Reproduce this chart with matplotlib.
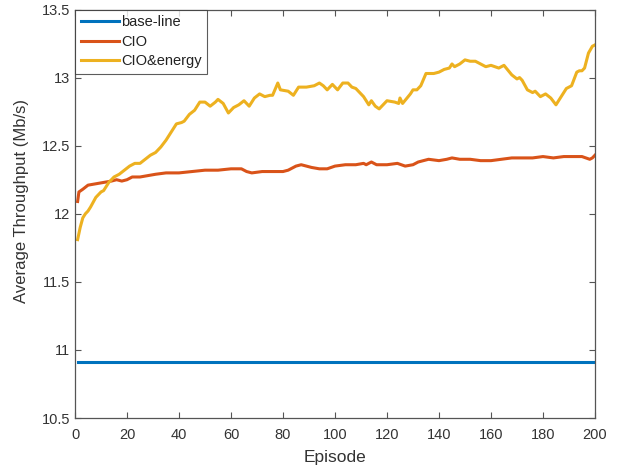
import matplotlib
matplotlib.use("Agg")
import matplotlib.pyplot as plt

plt.rcParams['font.family'] = ['Liberation Sans', 'DejaVu Sans']

# ---- data ----
base_ep = [1, 200]
base_val = [10.91, 10.91]

cio_ep = [1, 1.5, 3, 5, 8, 11, 14, 16, 18, 20, 22, 25, 28, 31, 35, 40, 45, 50, 55,
          60, 64, 66, 68, 72, 76, 80, 82, 85, 87, 89, 91, 94, 97, 100, 104, 108,
          111, 112, 114, 116, 120, 124, 127, 130, 132, 136, 140, 143, 145, 148,
          152, 156, 160, 164, 168, 172, 176, 180, 184, 188, 192, 195, 198, 199, 200]
cio_val = [12.09, 12.16, 12.18, 12.21, 12.22, 12.23, 12.24, 12.25, 12.24, 12.25,
           12.27, 12.27, 12.28, 12.29, 12.30, 12.30, 12.31, 12.32, 12.32, 12.33,
           12.33, 12.31, 12.30, 12.31, 12.31, 12.31, 12.32, 12.35, 12.36, 12.35,
           12.34, 12.33, 12.33, 12.35, 12.36, 12.36, 12.37, 12.36, 12.38, 12.36,
           12.36, 12.37, 12.35, 12.36, 12.38, 12.40, 12.39, 12.40, 12.41, 12.40,
           12.40, 12.39, 12.39, 12.40, 12.41, 12.41, 12.41, 12.42, 12.41, 12.42,
           12.42, 12.42, 12.40, 12.41, 12.43]

ce_ep = [1, 2, 3, 4, 5, 6, 8, 10, 11, 13, 15, 17, 19, 21, 23, 25, 27, 29, 31, 33,
         35, 37, 39, 41, 42, 44, 46, 48, 50, 52, 54, 55, 57, 59, 61, 63, 65, 67,
         69, 71, 73, 75, 76, 78, 79, 82, 84, 86, 89, 92, 94, 95.5, 97, 99, 101,
         103, 105, 106.5, 108, 111, 113, 114, 115.5, 117, 120, 123, 124.5, 125,
         126, 129, 130, 131.5, 133, 135, 138, 140, 142, 144, 145, 146, 148, 150,
         152, 154, 156, 158, 160, 163, 165, 168, 170, 171, 172, 174, 176, 177,
         179, 181, 183, 185, 187, 189, 191, 193, 194, 195, 196, 197.5, 199, 200]
ce_val = [11.81, 11.90, 11.97, 12.00, 12.02, 12.05, 12.12, 12.16, 12.17, 12.23,
          12.27, 12.29, 12.32, 12.35, 12.37, 12.37, 12.40, 12.43, 12.45, 12.49,
          12.54, 12.60, 12.66, 12.67, 12.68, 12.73, 12.76, 12.82, 12.82, 12.79,
          12.82, 12.84, 12.81, 12.74, 12.78, 12.80, 12.83, 12.79, 12.85, 12.88,
          12.86, 12.87, 12.87, 12.96, 12.91, 12.90, 12.87, 12.93, 12.93, 12.94,
          12.96, 12.94, 12.91, 12.95, 12.91, 12.96, 12.96, 12.93, 12.92, 12.86,
          12.80, 12.83, 12.79, 12.77, 12.83, 12.82, 12.81, 12.85, 12.81, 12.88,
          12.91, 12.91, 12.94, 13.03, 13.03, 13.04, 13.06, 13.07, 13.10, 13.08,
          13.10, 13.13, 13.12, 13.12, 13.10, 13.08, 13.09, 13.07, 13.09, 13.02,
          12.99, 13.00, 12.98, 12.91, 12.89, 12.90, 12.86, 12.88, 12.85, 12.80,
          12.86, 12.92, 12.94, 13.04, 13.05, 13.05, 13.07, 13.18, 13.23, 13.24]

x_ticks = [0, 20, 40, 60, 80, 100, 120, 140, 160, 180, 200]
y_ticks = [10.5, 11, 11.5, 12, 12.5, 13, 13.5]
y_tick_labels = ['10.5', '11', '11.5', '12', '12.5', '13', '13.5']
labels = ['base-line', 'CIO', 'CIO&energy']
colors = ['#0072BD', '#D95319', '#EDB120']

fig = plt.figure(figsize=(6.23, 4.75), dpi=100)
ax = fig.add_axes([0.1204, 0.12, 0.8346, 0.86])

ax.plot(base_ep, base_val, color=colors[0], lw=2.2, label=labels[0])
ax.plot(cio_ep, cio_val, color=colors[1], lw=2.2, label=labels[1])
ax.plot(ce_ep, ce_val, color=colors[2], lw=2.2, label=labels[2])

ax.set_xlim(0, 200)
ax.set_ylim(10.5, 13.5)
ax.set_xticks(x_ticks)
ax.set_yticks(y_ticks)
ax.set_yticklabels(y_tick_labels)

axcol = '#555555'
for s in ax.spines.values():
    s.set_color(axcol)
    s.set_linewidth(0.9)
ax.tick_params(direction='in', top=True, right=True, length=4, width=0.8,
               colors=axcol, labelcolor='#333333', labelsize=10.5)
ax.tick_params(axis='x', pad=7)
ax.set_xlabel('Episode', fontsize=12.5, color='#333333', labelpad=6)
ax.set_ylabel('Average Throughput (Mb/s)', fontsize=12, color='#333333')
ax.yaxis.set_label_coords(-0.088, 0.53)

leg = ax.legend(loc='upper left', fontsize=10.5, frameon=True, fancybox=False,
                borderaxespad=0, handlelength=2.6, handletextpad=0.15,
                borderpad=0.4, labelspacing=0.38)
leg.get_frame().set_edgecolor('#333333')
leg.get_frame().set_linewidth(0.8)
for t in leg.get_texts():
    t.set_color('#222222')

fig.savefig('out.png', dpi=100)
